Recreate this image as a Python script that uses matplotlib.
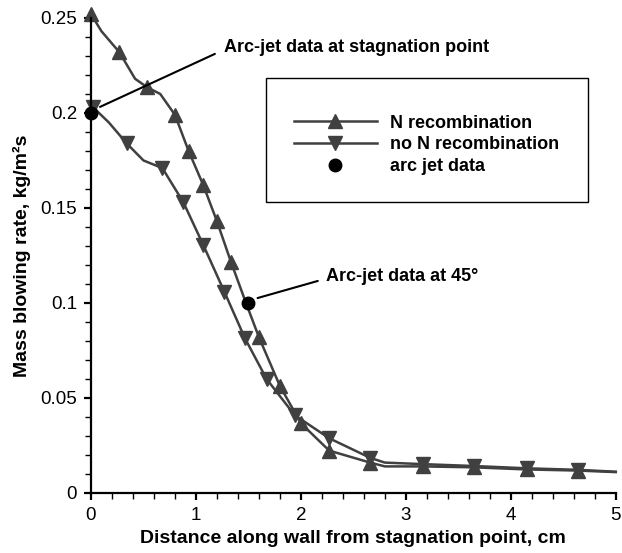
import matplotlib
matplotlib.use("Agg")
import matplotlib.pyplot as plt
from matplotlib.patches import Rectangle
from matplotlib.ticker import MultipleLocator, FuncFormatter

plt.rcParams["font.family"] = ["Liberation Sans", "DejaVu Sans"]

# N recombination curve, markers at the listed indices
x_rec = [0.0, 0.1, 0.27, 0.42, 0.536, 0.66, 0.80, 0.93, 1.07, 1.20, 1.333, 1.47,
         1.60, 1.80, 2.00, 2.27, 2.66, 2.80, 3.16, 3.65, 4.15, 4.64, 5.0]
y_rec = [0.252, 0.243, 0.232, 0.218, 0.2135, 0.210, 0.199, 0.180, 0.162, 0.143, 0.1217, 0.101,
         0.082, 0.0563, 0.0367, 0.0223, 0.0160, 0.0140, 0.0140, 0.0135, 0.0124, 0.0118, 0.0110]
mark_rec = [0, 2, 4, 6, 7, 8, 9, 10, 12, 13, 14, 15, 16, 18, 19, 20, 21]

# no N recombination curve
x_norec = [0.02, 0.17, 0.34, 0.50, 0.68, 0.88, 1.07, 1.27, 1.467, 1.673, 1.94, 2.27,
           2.66, 2.80, 3.16, 3.65, 4.15, 4.64, 5.0]
y_norec = [0.203, 0.195, 0.184, 0.175, 0.171, 0.153, 0.1305, 0.106, 0.0814, 0.060, 0.041, 0.0288,
           0.0185, 0.0160, 0.0152, 0.0142, 0.0130, 0.0122, 0.0112]
mark_norec = [0, 2, 4, 5, 6, 7, 8, 9, 10, 11, 12, 14, 15, 16, 17]

# arc jet measurements
x_arc = [0.0, 1.5]
y_arc = [0.2, 0.1]

gray = "#404040"

fig = plt.figure(figsize=(6.22, 5.53), dpi=100)
ax = fig.add_axes([0.1463, 0.1085, 0.8437, 0.859])

ax.plot(x_rec, y_rec, color=gray, lw=1.8, marker="^", markersize=10,
        markevery=mark_rec, clip_on=False, label="N recombination")
ax.plot(x_norec, y_norec, color=gray, lw=1.8, marker="v", markersize=10,
        markevery=mark_norec, clip_on=False, label="no N recombination")
ax.plot(x_arc, y_arc, "o", color="black", markersize=9, clip_on=False,
        label="arc jet data", zorder=5)

ax.set_xlim(0, 5)
ax.set_ylim(0, 0.25)
ax.xaxis.set_major_locator(MultipleLocator(1))
ax.xaxis.set_minor_locator(MultipleLocator(0.2))
ax.yaxis.set_major_locator(MultipleLocator(0.05))
ax.yaxis.set_minor_locator(MultipleLocator(0.01))
ax.yaxis.set_major_formatter(FuncFormatter(lambda v, p: f"{v:g}"))

for s in ["top", "right"]:
    ax.spines[s].set_visible(False)
for s in ["left", "bottom"]:
    ax.spines[s].set_linewidth(1.6)
ax.tick_params(which="major", direction="out", length=5, width=1.6, labelsize=13.5, pad=5)
ax.tick_params(which="minor", direction="out", length=4.5, width=1.0)

ax.set_xlabel("Distance along wall from stagnation point, cm", fontsize=14, fontweight="bold")
ax.set_ylabel("Mass blowing rate, kg/m²s", fontsize=14, fontweight="bold")
ax.xaxis.set_label_coords(0.5, -0.077)
ax.yaxis.set_label_coords(-0.131, 0.5)
ax.yaxis.label.set_va("center")

# annotations
ax.annotate("Arc-jet data at stagnation point", xy=(0.086, 0.2032), xytext=(1.267, 0.2342),
            fontsize=13, fontweight="bold", va="center", ha="left",
            arrowprops=dict(arrowstyle="-", color="black", lw=1.5, shrinkA=5, shrinkB=0,
                            relpos=(0, 0.4)))
ax.annotate("Arc-jet data at 45°", xy=(1.587, 0.1026), xytext=(2.238, 0.1137),
            fontsize=13, fontweight="bold", va="center", ha="left",
            arrowprops=dict(arrowstyle="-", color="black", lw=1.5, shrinkA=4, shrinkB=0,
                            relpos=(0, 0.4)))

# legend inside a plain box
ax.add_patch(Rectangle((1.667, 0.1532), 3.066, 0.0652, transform=ax.transData,
                       fill=False, edgecolor="black", lw=1.0, clip_on=False))
leg = ax.legend(loc="center", bbox_to_anchor=(3.195, 0.1832), bbox_transform=ax.transData,
                frameon=False, handlelength=4.6, handletextpad=0.72, labelspacing=0.27,
                borderpad=0, prop={"weight": "bold", "size": 13})

fig.savefig("out.png", dpi=100)
